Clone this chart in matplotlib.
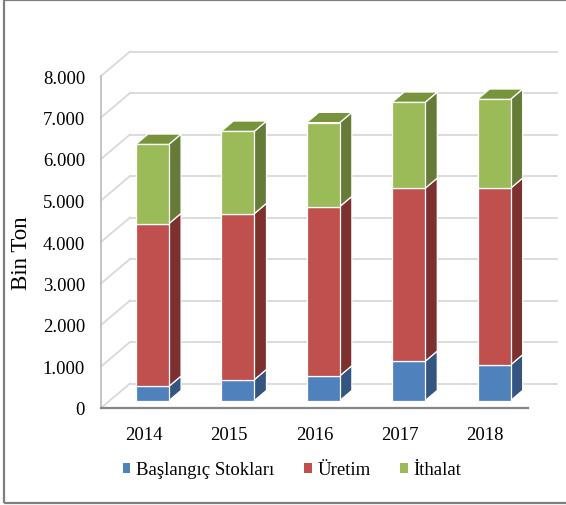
import matplotlib
matplotlib.use("Agg")
import matplotlib.pyplot as plt
from matplotlib.patches import Polygon, Rectangle, Patch
from matplotlib.lines import Line2D
from matplotlib.ticker import FuncFormatter

years = ["2014", "2015", "2016", "2017", "2018"]
baslangic = [345, 506, 595, 948, 860]
uretim = [3920, 4000, 4080, 4168, 4256]
ithalat = [1911, 1984, 2024, 2073, 2145]
series_names = ["Başlangıç Stokları", "Üretim", "İthalat"]
yticks = list(range(0, 8001, 1000))

front_cols = ["#4F81BD", "#C0504D", "#9BBB59"]
side_cols = ["#34557F", "#7D312F", "#677B38"]
top_cols = ["#3F6799", "#9A3F3D", "#77933C"]

plt.rcParams["font.family"] = ["Liberation Serif", "DejaVu Serif"]

W, H = 566, 506
fig = plt.figure(figsize=(W / 100, H / 100), dpi=100)

# front plane of the 3D box in pixels
x0, x1 = 101, 528
yb, yt = 409, 77
ax = fig.add_axes([x0 / W, 1 - yb / H, (x1 - x0) / W, (yb - yt) / H])
ax.set_xlim(-0.5, 4.5)
ax.set_ylim(0, 8000)
for s in ax.spines.values():
    s.set_visible(False)
ax.patch.set_visible(False)

px_x = (x1 - x0) / 5.0          # pixels per category
px_y = (yb - yt) / 8000.0       # pixels per unit
DX = 29 / px_x                  # depth offset in data units
DY = 24.5 / px_y

grid_c = "#D9D9D9"
# back wall gridlines + left wall diagonals
for v in yticks:
    ax.add_line(Line2D([-0.5 + DX, 4.5 + DX], [v + DY, v + DY], color=grid_c, lw=1.3,
                       clip_on=False, zorder=1))
    ax.add_line(Line2D([-0.5, -0.5 + DX], [v, v + DY], color=grid_c, lw=1.3,
                       clip_on=False, zorder=1))
# left front vertical
ax.add_line(Line2D([-0.5, -0.5], [0, 8000], color="#BFBFBF", lw=1.3, clip_on=False, zorder=2))
# front floor line
ax.add_line(Line2D([-0.5, 4.5], [0, 0], color="#868686", lw=1.6, clip_on=False, zorder=2))

w = 33 / px_x
f0, f1 = 0.30, 0.72
data = [baslangic, uretim, ithalat]
z = 3
for i in range(len(years)):
    c = i + f0 * DX
    bottom = 0
    for k, vals in enumerate(data):
        top = bottom + vals[i]
        xl, xr = c - w / 2, c + w / 2
        ddx = (f1 - f0) * DX
        y0f, y1f = bottom + f0 * DY, top + f0 * DY
        y0b, y1b = bottom + f1 * DY, top + f1 * DY
        side = Polygon([(xr, y0f), (xr + ddx, y0b), (xr + ddx, y1b), (xr, y1f)], closed=True,
                       facecolor=side_cols[k], edgecolor="white", lw=0.9, clip_on=False, zorder=z)
        front = Polygon([(xl, y0f), (xr, y0f), (xr, y1f), (xl, y1f)], closed=True,
                        facecolor=front_cols[k], edgecolor="white", lw=0.9, clip_on=False, zorder=z)
        ax.add_patch(side)
        ax.add_patch(front)
        if k == len(data) - 1:
            topf = Polygon([(xl, y1f), (xr, y1f), (xr + ddx, y1b), (xl + ddx, y1b)], closed=True,
                           facecolor=top_cols[k], edgecolor="white", lw=0.9, clip_on=False, zorder=z)
            ax.add_patch(topf)
        bottom = top
        z += 1

ax.set_yticks(yticks)
ax.yaxis.set_major_formatter(FuncFormatter(lambda v, p: f"{int(v):,}".replace(",", ".")))
ax.set_xticks(range(len(years)))
ax.set_xticklabels(years)
ax.tick_params(axis="y", length=0, pad=11.5, labelsize=13.5)
ax.tick_params(axis="x", length=0, pad=13, labelsize=13.5)

fig.text(21.5 / W, 1 - 253 / H, "Bin Ton", rotation=90, ha="center", va="center", fontsize=16.5)

handles = [Patch(facecolor=front_cols[k], edgecolor="none") for k in range(3)]
fig.legend(handles, series_names, loc="center", bbox_to_anchor=(292 / W, 1 - 471 / H),
           ncol=3, frameon=False, fontsize=13.5, handlelength=0.4, handleheight=0.4,
           handletextpad=0.3, columnspacing=1.6)

# chart-area border
fig.patches.append(Rectangle((4 / W, 2.5 / H), 1.2, 1 - 3.5 / H, transform=fig.transFigure,
                             fill=False, edgecolor="#7F7F7F", lw=1.6))

fig.savefig("out.png", dpi=100)
